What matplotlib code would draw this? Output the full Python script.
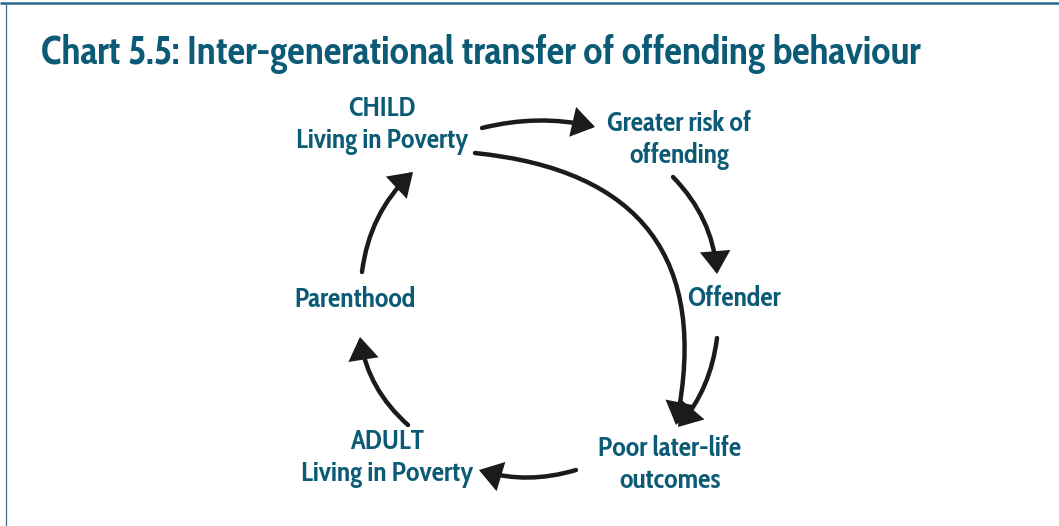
import matplotlib
matplotlib.use("Agg")
import matplotlib.pyplot as plt
from matplotlib.patches import FancyArrowPatch

plt.rcParams['font.family'] = ['Cabin Condensed', 'DejaVu Sans']

title = 'Chart 5.5: Inter-generational transfer of offending behaviour'

# nodes of the cycle
nodes = ['CHILD\nLiving in Poverty', 'Greater risk of\noffending', 'Offender',
         'Poor later-life\noutcomes', 'ADULT\nLiving in Poverty', 'Parenthood']
# arrows: (from node, to node)
links = [(0, 1), (1, 2), (2, 3), (0, 3), (3, 4), (4, 5), (5, 0)]

# layout (pixel positions on a 1059x526 canvas)
node_xy = [(382, 125), (679, 140), (734, 299), (670, 465), (387, 458), (355, 300)]
arrow_ends = [((482, 128), (595, 127)),
              ((673, 177), (717, 274)),
              ((717, 338), (678, 427)),
              ((475, 153), (676, 425)),
              ((576, 470), (479, 470)),
              ((408, 425), (360, 337)),
              ((362, 272), (413, 172))]
arrow_rad = [-0.12, -0.18, -0.15, -0.55, -0.15, -0.18, -0.18]

teal = '#0c5b76'

fig = plt.figure(figsize=(10.59, 5.26), dpi=100)
ax = fig.add_axes([0, 0, 1, 1])
ax.set_xlim(0, 1059)
ax.set_ylim(526, 0)
ax.axis('off')

# frame lines
ax.plot([0, 1059], [3, 3], color='#2a678a', lw=1.8, solid_capstyle='butt')
ax.plot([6, 6], [3, 526], color='#3d7192', lw=0.9)

ax.text(41, 64, title, fontsize=28.4, fontweight='bold', color=teal, va='baseline', ha='left')

for label, (x, y) in zip(nodes, node_xy):
    ax.text(x, y, label, fontsize=19.8, fontweight='bold', color=teal,
            ha='center', va='center', multialignment='center', linespacing=1.2)

for (a, b), (p0, p1), rad in zip(links, arrow_ends, arrow_rad):
    arr = FancyArrowPatch(p0, p1, connectionstyle=f'arc3,rad={rad}',
                          arrowstyle='-|>,head_length=0.6,head_width=0.4',
                          mutation_scale=20, lw=3.2, color='#1b1b1b',
                          shrinkA=0, shrinkB=0, joinstyle='miter')
    ax.add_patch(arr)

fig.savefig('out.png', dpi=100)
